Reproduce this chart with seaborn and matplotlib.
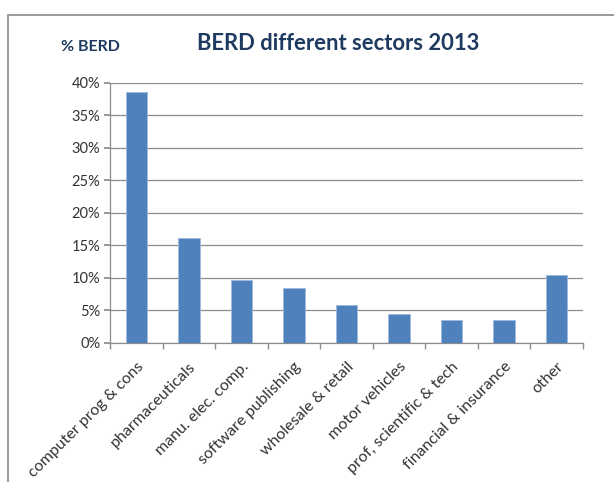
import numpy as np
import pandas as pd
import matplotlib
matplotlib.use("Agg")
import matplotlib.pyplot as plt
import seaborn as sns
from matplotlib.patches import Rectangle
from matplotlib.ticker import FixedLocator, FuncFormatter

sns.set_theme(style="white")
plt.rcParams['font.family'] = ['Lato', 'DejaVu Sans']

# data
sectors = ["computer prog & cons", "pharmaceuticals", "manu. elec. comp.",
           "software publishing", "wholesale & retail", "motor vehicles",
           "prof, scientific & tech", "financial & insurance", "other"]
share = [38.5, 16.1, 9.6, 8.4, 5.8, 4.4, 3.5, 3.5, 10.4]
y_ticks = [0, 5, 10, 15, 20, 25, 30, 35, 40]

df = pd.DataFrame({"sector": sectors, "share": share})

fig = plt.figure(figsize=(6.14, 4.82), dpi=100)
ax = fig.add_axes([110 / 614, 1 - 343 / 482, 473 / 614, 260.5 / 482])

# outer chart border (cut off at right/bottom like the original)
fig.patches.append(Rectangle((8 / 614, -0.1), 1.2, 1 - 15 / 482 + 0.1,
                             transform=fig.transFigure, fill=False,
                             edgecolor="#8a8a8a", linewidth=1.2))

sns.barplot(data=df, x="sector", y="share", color="#4F81BD", width=0.41,
            edgecolor="#9db8dc", linewidth=0.6, saturation=1, ax=ax, zorder=3)

ax.set_xlim(-0.5, len(sectors) - 0.5)
ax.set_ylim(0, 40)
ax.yaxis.set_major_locator(FixedLocator(y_ticks))
ax.yaxis.set_major_formatter(FuncFormatter(lambda v, p: f"{v:.0f}%"))
ax.grid(axis="y", color="#8c8c8c", linewidth=0.9, zorder=0)
ax.set_axisbelow(True)

for s in ["top", "right"]:
    ax.spines[s].set_visible(False)
for s in ["left", "bottom"]:
    ax.spines[s].set_color("#8c8c8c")
    ax.spines[s].set_linewidth(0.9)

ax.set_xlabel("")
ax.set_ylabel("")
ax.tick_params(axis="y", left=True, length=4, color="#8c8c8c",
               labelsize=10.5, labelcolor="#333333", pad=3)
ax.set_xticks(range(len(sectors)))
ax.set_xticklabels(sectors, rotation=45, ha="right", rotation_mode="anchor",
                   fontsize=11.5, color="#333333")
ax.tick_params(axis="x", which="major", length=0, pad=12)
ax.set_xticks(np.arange(-0.5, len(sectors), 1), minor=True)
ax.tick_params(axis="x", which="minor", bottom=True, length=4, color="#8c8c8c")

fig.text(338 / 614, 1 - 43 / 482, "BERD different sectors 2013", ha="center",
         va="center", fontsize=15.8, fontweight="bold", color="#1F3A60")
fig.text(90 / 614, 1 - 47 / 482, "% BERD", ha="center", va="center",
         fontsize=11.5, fontweight="bold", color="#1F3A60")

fig.savefig("out.png", dpi=100)
